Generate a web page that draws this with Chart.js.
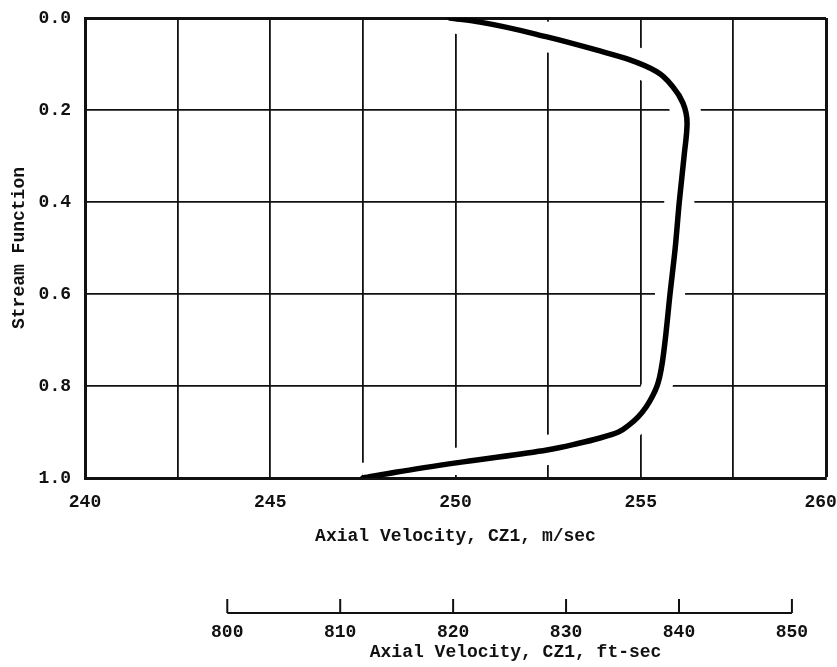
<!DOCTYPE html>
<html lang="en">
<head>
    <meta charset="UTF-8">
    <title>Stream Function vs Axial Velocity</title>
    <script src="https://cdn.jsdelivr.net/npm/chart.js"></script>
    <style>
        body { margin: 0; background: #ffffff; }
        #wrap { width: 837px; height: 667px; position: relative; }
    </style>
</head>
<body>
    <div id="wrap">
        <canvas id="profileChart"></canvas>
    </div>

    <script>
        // data (m/sec vs stream function)
        const velocity = [249.85, 250.66, 252.47, 253.82, 254.71, 255.44, 255.87, 256.14, 256.25,
                          256.17, 256.04, 255.93, 255.79, 255.66, 255.58, 255.51, 255.44, 255.33,
                          255.15, 254.93, 254.68, 254.40, 253.90, 253.30, 252.47, 250.21, 248.42,
                          247.50];
        const streamFn = [0.000, 0.009, 0.041, 0.070, 0.091, 0.117, 0.150, 0.185, 0.228,
                          0.300, 0.400, 0.500, 0.600, 0.700, 0.750, 0.780, 0.800, 0.820,
                          0.845, 0.867, 0.885, 0.900, 0.913, 0.925, 0.939, 0.965, 0.987,
                          1.000];

        const xTickLabels = [240, 245, 250, 255, 260];
        const yTickLabels = [0.0, 0.2, 0.4, 0.6, 0.8, 1.0];
        const ftTicks = [800, 810, 820, 830, 840, 850];
        const FT_TO_M = 0.3048;

        const FONT = "'Liberation Mono', 'DejaVu Sans Mono', monospace";
        const points = velocity.map((v, i) => ({ x: v, y: streamFn[i] }));

        // second scale below the chart, in ft/sec, mapped through the m/sec axis
        const ftAxisPlugin = {
            id: "ftAxis",
            afterDraw(chart) {
                const ctx = chart.ctx;
                const xs = chart.scales.x;
                const lineY = 613;
                const x0 = xs.getPixelForValue(ftTicks[0] * FT_TO_M);
                const x1 = xs.getPixelForValue(ftTicks[ftTicks.length - 1] * FT_TO_M);
                ctx.save();
                ctx.strokeStyle = "#111";
                ctx.lineWidth = 2;
                ctx.beginPath();
                ctx.moveTo(x0, lineY);
                ctx.lineTo(x1, lineY);
                ctx.stroke();
                ctx.fillStyle = "#111";
                ctx.font = "bold 18px " + FONT;
                ctx.textAlign = "center";
                ctx.textBaseline = "middle";
                ftTicks.forEach(ft => {
                    const px = xs.getPixelForValue(ft * FT_TO_M);
                    ctx.beginPath();
                    ctx.moveTo(px, lineY);
                    ctx.lineTo(px, lineY - 14);
                    ctx.stroke();
                    ctx.fillText(String(ft), px, 632);
                });
                ctx.fillText("Axial Velocity, CZ1, ft-sec", (x0 + x1) / 2 + 6, 652);
                ctx.restore();
            }
        };

        const ctx = document.getElementById("profileChart").getContext("2d");
        new Chart(ctx, {
            type: "line",
            data: {
                datasets: [
                    {
                        data: points,
                        borderColor: "#000000",
                        borderWidth: 5.5,
                        pointRadius: 0,
                        cubicInterpolationMode: "monotone",
                        borderCapStyle: "round"
                    },
                    {
                        // white halo that breaks the grid where the curve passes
                        data: points,
                        borderColor: "#ffffff",
                        borderWidth: 30,
                        pointRadius: 0,
                        cubicInterpolationMode: "monotone",
                        clip: { left: 0, top: -3, right: 0, bottom: -3 }
                    }
                ]
            },
            options: {
                indexAxis: "y",
                responsive: true,
                maintainAspectRatio: false,
                animation: false,
                layout: { padding: { left: 9, right: 11, top: 18, bottom: 120 } },
                plugins: {
                    legend: { display: false },
                    tooltip: { enabled: false }
                },
                scales: {
                    x: {
                        type: "linear",
                        position: "bottom",
                        min: 240,
                        max: 260,
                        afterBuildTicks(scale) {
                            const t = [];
                            for (let v = 240; v <= 260; v += 2.5) t.push({ value: v });
                            scale.ticks = t;
                        },
                        afterFit(scale) {
                            scale.height = 69;
                            scale.paddingLeft = 0;
                            scale.paddingRight = 0;
                        },
                        ticks: {
                            padding: 14,
                            color: "#111",
                            font: { family: FONT, size: 18, weight: "bold" },
                            maxRotation: 0,
                            autoSkip: false,
                            callback: v => xTickLabels.includes(v) ? (v === 260 ? v + " " : String(v)) : ""
                        },
                        grid: {
                            color: "#111",
                            drawTicks: false,
                            lineWidth: c => (c.tick && c.tick.value === 260) ? 3 : 1.8
                        },
                        border: { display: true, color: "#111", width: 3 },
                        title: {
                            display: true,
                            text: "Axial Velocity, CZ1, m/sec",
                            color: "#111",
                            font: { family: FONT, size: 18, weight: "bold" },
                            padding: { top: 12, bottom: 0 }
                        }
                    },
                    y: {
                        type: "linear",
                        reverse: true,
                        min: 0,
                        max: 1,
                        afterBuildTicks(scale) {
                            scale.ticks = yTickLabels.map(v => ({ value: v }));
                        },
                        afterFit(scale) {
                            scale.width = 76;
                            scale.paddingTop = 0;
                            scale.paddingBottom = 0;
                        },
                        ticks: {
                            padding: 14,
                            color: "#111",
                            font: { family: FONT, size: 18, weight: "bold" },
                            callback: v => v.toFixed(1)
                        },
                        grid: {
                            color: "#111",
                            drawTicks: false,
                            lineWidth: c => (c.tick && c.tick.value === 0) ? 3 : 1.8
                        },
                        border: { display: true, color: "#111", width: 3 },
                        title: {
                            display: true,
                            text: "Stream Function",
                            color: "#111",
                            font: { family: FONT, size: 18, weight: "bold" },
                            padding: { top: 0, bottom: 0 }
                        }
                    }
                }
            },
            plugins: [ftAxisPlugin]
        });
    </script>
</body>
</html>
